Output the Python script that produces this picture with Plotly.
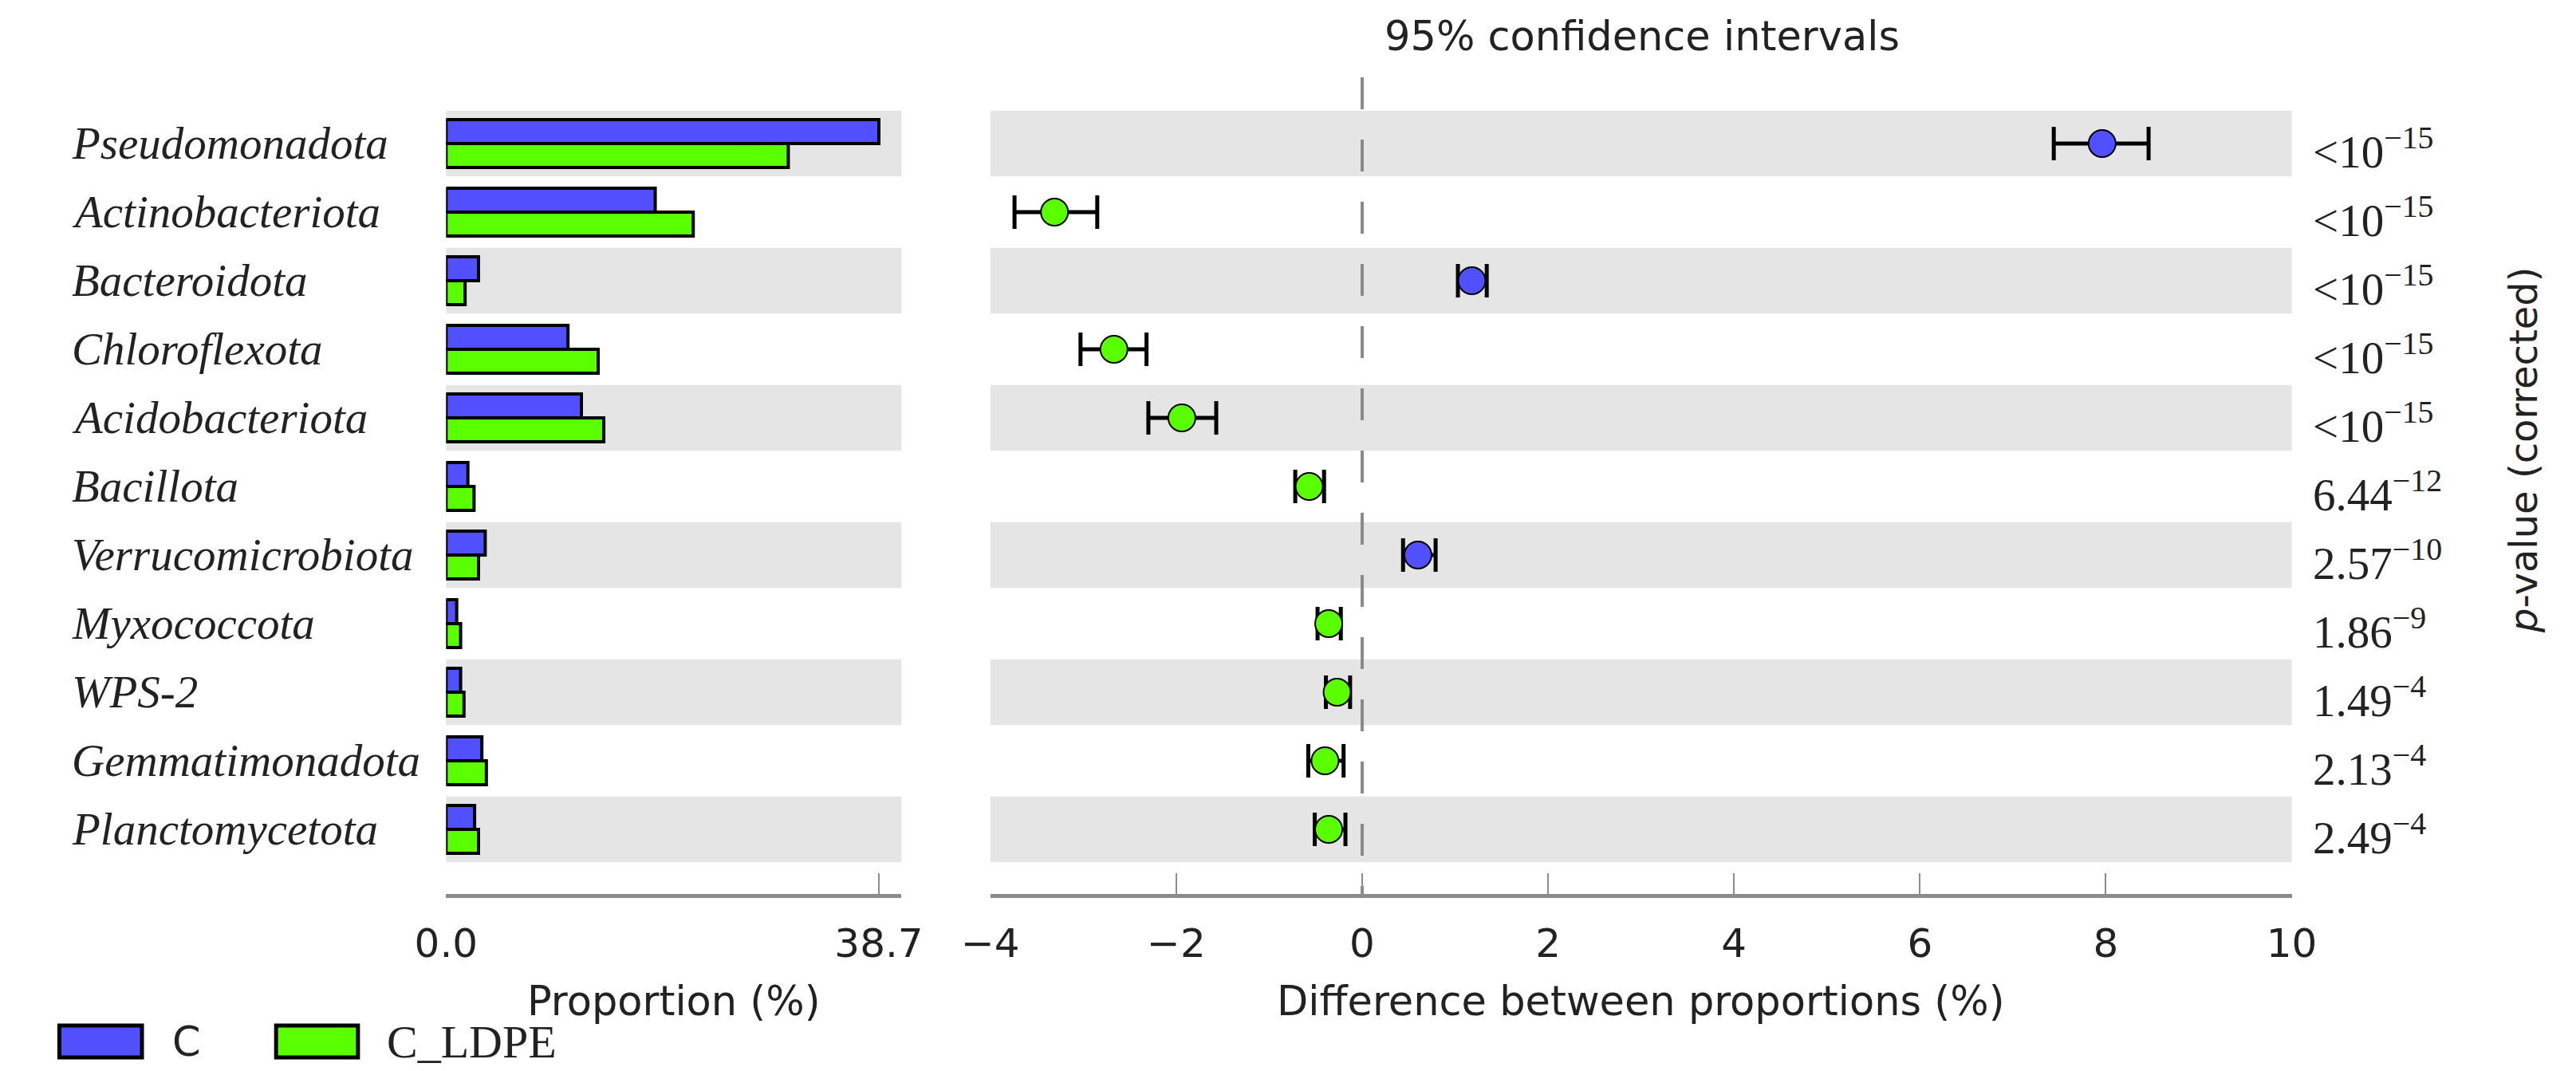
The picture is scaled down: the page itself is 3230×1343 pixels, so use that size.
import plotly.graph_objects as go

# phyla, top to bottom
phyla = ["Pseudomonadota", "Actinobacteriota", "Bacteroidota", "Chloroflexota",
         "Acidobacteriota", "Bacillota", "Verrucomicrobiota", "Myxococcota",
         "WPS-2", "Gemmatimonadota", "Planctomycetota"]

# mean proportions (%)
prop_c = [38.7, 18.7, 2.9, 10.9, 12.1, 1.95, 3.5, 0.95, 1.3, 3.2, 2.55]
prop_ldpe = [30.6, 22.1, 1.7, 13.6, 14.1, 2.5, 2.9, 1.3, 1.6, 3.6, 2.9]

# difference between proportions and 95% CI
diff = [7.96, -3.31, 1.18, -2.67, -1.94, -0.57, 0.60, -0.36, -0.27, -0.40, -0.36]
ci_low = [7.44, -3.74, 1.03, -3.03, -2.30, -0.72, 0.44, -0.48, -0.39, -0.58, -0.51]
ci_high = [8.46, -2.85, 1.34, -2.32, -1.57, -0.41, 0.79, -0.23, -0.13, -0.20, -0.18]

pvals = ["<10<sup>−15</sup>", "<10<sup>−15</sup>", "<10<sup>−15</sup>", "<10<sup>−15</sup>",
         "<10<sup>−15</sup>", "6.44<sup>−12</sup>", "2.57<sup>−10</sup>", "1.86<sup>−9</sup>",
         "1.49<sup>−4</sup>", "2.13<sup>−4</sup>", "2.49<sup>−4</sup>"]

BLUE = "#5050FF"
GREEN = "#5AFF00"
W, H = 3230, 1343
SANS = "DejaVu Sans"
SERIF = "Liberation Serif"
TXT = "#222222"

rows = list(range(len(phyla)))
y_range = [10.942, -0.965]


def px_x(p):
    return p / W


def px_y(p):
    return 1 - p / H


fig = go.Figure()

# left panel: proportions
fig.add_trace(go.Bar(x=prop_c, y=rows, orientation="h", name="C",
                     marker=dict(color=BLUE, line=dict(color="black", width=4)),
                     xaxis="x", yaxis="y", showlegend=False))
fig.add_trace(go.Bar(x=prop_ldpe, y=rows, orientation="h", name="C_LDPE",
                     marker=dict(color=GREEN, line=dict(color="black", width=4)),
                     xaxis="x", yaxis="y", showlegend=False))

# right panel: differences with CI
pt_colors = [BLUE if d > 0 else GREEN for d in diff]
fig.add_trace(go.Scatter(
    x=diff, y=rows, mode="markers", xaxis="x2", yaxis="y2", showlegend=False,
    marker=dict(size=34, color=pt_colors, line=dict(color="black", width=2)),
    error_x=dict(type="data", symmetric=False,
                 array=[h - d for h, d in zip(ci_high, diff)],
                 arrayminus=[d - l for d, l in zip(diff, ci_low)],
                 color="black", thickness=5, width=21),
))

shapes = []
# alternating grey bands
for i in rows:
    if i % 2 == 0:
        for xr, yr in (("x domain", "y"), ("x2 domain", "y2")):
            shapes.append(dict(type="rect", xref=xr, yref=yr, x0=0, x1=1,
                               y0=i - 0.48, y1=i + 0.48, fillcolor="#E5E5E5",
                               line=dict(width=0), layer="below"))
# dashed zero line
shapes.append(dict(type="line", xref="x2", yref="y2", x0=0, x1=0,
                   y0=y_range[1], y1=y_range[0], layer="below",
                   line=dict(color="#8A8A8A", width=4, dash="40px,38px")))

# legend swatches
shapes.append(dict(type="rect", xref="paper", yref="paper",
                   x0=px_x(27), x1=px_x(133), y0=px_y(1318), y1=px_y(1278),
                   fillcolor=BLUE, line=dict(color="black", width=5)))
shapes.append(dict(type="rect", xref="paper", yref="paper",
                   x0=px_x(305), x1=px_x(410), y0=px_y(1318), y1=px_y(1278),
                   fillcolor=GREEN, line=dict(color="black", width=5)))

annotations = []
for i, name in enumerate(phyla):
    annotations.append(dict(text=f"<i>{name}</i>", xref="paper", yref="y",
                            x=px_x(41), y=i, xanchor="left", yanchor="middle",
                            showarrow=False,
                            font=dict(family=SERIF, size=57, color=TXT)))
for i, p in enumerate(pvals):
    annotations.append(dict(text=p, xref="paper", yref="y2", x=px_x(2915), y=i,
                            xanchor="left", yanchor="middle", yshift=-6,
                            showarrow=False,
                            font=dict(family=SERIF, size=57, color=TXT)))

annotations += [
    dict(text="95% confidence intervals", xref="paper", yref="paper",
         x=px_x(2057), y=px_y(38), xanchor="center", yanchor="middle",
         showarrow=False, font=dict(family=SANS, size=51, color=TXT)),
    dict(text="<i>p</i>-value (corrected)", xref="paper", yref="paper",
         x=px_x(3187), y=px_y(556), xanchor="center", yanchor="middle",
         textangle=-90, showarrow=False,
         font=dict(family=SANS, size=48, color=TXT)),
    dict(text="Proportion (%)", xref="paper", yref="paper",
         x=px_x(815), y=px_y(1247), xanchor="center", yanchor="middle",
         showarrow=False, font=dict(family=SANS, size=51, color=TXT)),
    dict(text="Difference between proportions (%)", xref="paper", yref="paper",
         x=px_x(2055), y=px_y(1247), xanchor="center", yanchor="middle",
         showarrow=False, font=dict(family=SANS, size=51, color=TXT)),
    dict(text="C", xref="paper", yref="paper", x=px_x(170), y=px_y(1298),
         xanchor="left", yanchor="middle", showarrow=False,
         font=dict(family=SANS, size=51, color=TXT)),
    dict(text="C_LDPE", xref="paper", yref="paper", x=px_x(445), y=px_y(1298),
         xanchor="left", yanchor="middle", showarrow=False,
         font=dict(family=SERIF, size=58, color=TXT)),
]

axis_common = dict(showgrid=False, zeroline=False, showline=True,
                   linecolor="#8C8C8C", linewidth=5, ticks="inside",
                   ticklen=26, tickwidth=2, tickcolor="#8C8C8C",
                   ticklabelstandoff=14,
                   tickfont=dict(family=SANS, size=50, color=TXT))

fig.update_layout(
    width=W, height=H, autosize=False,
    margin=dict(l=0, r=0, t=0, b=0),
    paper_bgcolor="white", plot_bgcolor="white",
    barmode="group", bargap=0.3, bargroupgap=0,
    xaxis=dict(domain=[px_x(523), px_x(1107)], range=[0, 40.72],
               tickvals=[0, 38.7], ticktext=["0.0", "38.7"],
               anchor="y", **axis_common),
    yaxis=dict(domain=[px_y(1113), px_y(89)], range=y_range, visible=False),
    xaxis2=dict(domain=[px_x(1221), px_x(2890)], range=[-4, 10],
                tickvals=[-4, -2, 0, 2, 4, 6, 8, 10],
                ticktext=["−4", "−2", "0", "2", "4", "6", "8", "10"],
                anchor="y2", **axis_common),
    yaxis2=dict(domain=[px_y(1113), px_y(89)], range=y_range, visible=False,
                anchor="x2"),
    shapes=shapes,
    annotations=annotations,
)

fig.write_html("out.html")
